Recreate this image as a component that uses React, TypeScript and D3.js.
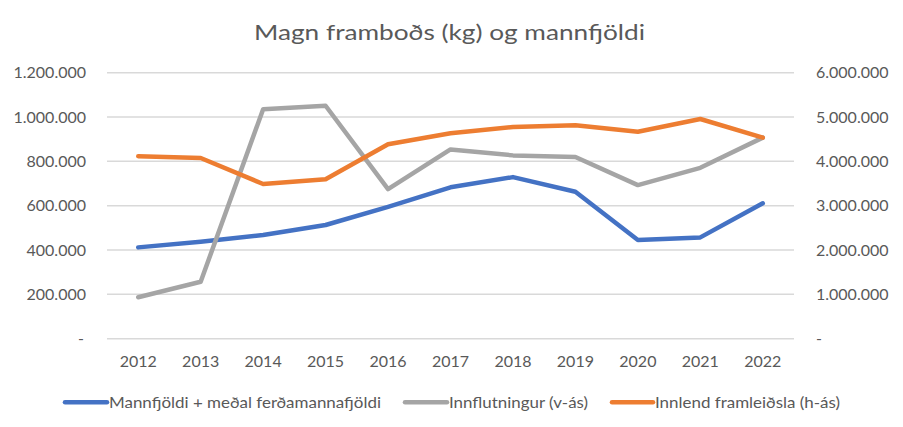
import * as React from "react";
import * as d3 from "d3";

const years = ["2012", "2013", "2014", "2015", "2016", "2017", "2018", "2019", "2020", "2021", "2022"];
// vinstri ás
const mannfjoldi = [412000, 437000, 468000, 513000, 595000, 683000, 729000, 663000, 445000, 457000, 611000];
const innflutningur = [187000, 257000, 1035000, 1051000, 675000, 854000, 827000, 820000, 693000, 771000, 907000];
// hægri ás
const innlend = [4114000, 4076000, 3489000, 3595000, 4385000, 4633000, 4775000, 4813000, 4669000, 4956000, 4534000];

const leftTicks = [0, 200000, 400000, 600000, 800000, 1000000, 1200000];
const rightTicks = [0, 1000000, 2000000, 3000000, 4000000, 5000000, 6000000];

const title = "Magn framboðs (kg) og mannfjöldi";
const seriesNames = ["Mannfjöldi + meðal ferðamannafjöldi", "Innflutningur (v-ás)", "Innlend framleiðsla (h-ás)"];
const seriesColors = ["#4472C4", "#A5A5A5", "#ED7D31"];

const isl = d3.formatLocale({ decimal: ",", thousands: ".", grouping: [3], currency: ["", ""] });
const fmt = (v: number) => (v === 0 ? "-" : isl.format(",d")(v));

const FONT = "Lato, 'Open Sans', sans-serif";
const TXT = "#595959";

export default function App() {
  const width = 903, height = 427;
  const left = 107, right = 794, top = 72.7, bottom = 338.7;

  const x = d3.scaleBand<string>().domain(years).range([left, right]);
  const yL = d3.scaleLinear().domain([0, 1200000]).range([bottom, top]);
  const yR = d3.scaleLinear().domain([0, 6000000]).range([bottom, top]);
  const cx = (d: string) => (x(d) as number) + x.bandwidth() / 2;

  const lineL = d3.line<number>().x((_, i) => cx(years[i])).y(v => yL(v));
  const lineR = d3.line<number>().x((_, i) => cx(years[i])).y(v => yR(v));

  const paths = [lineL(mannfjoldi), lineL(innflutningur), lineR(innlend)];

  const legend = [
    { x1: 65, x2: 107, tx: 109, tl: 272 },
    { x1: 405, x2: 447, tx: 449, tl: 139 },
    { x1: 612, x2: 653, tx: 655, tl: 185 },
  ];

  return (
    <svg width={width} height={height} style={{ position: "absolute", left: 0, top: 0, background: "#fff" }} fontFamily={FONT}>
      <rect width={width} height={height} fill="#fff" />
      <text x={254} y={40} fontSize={22} fill={TXT} textLength={391} lengthAdjust="spacingAndGlyphs">{title}</text>

      {leftTicks.map(t => (
        <line key={t} x1={left} x2={right} y1={yL(t)} y2={yL(t)} stroke="#D9D9D9" strokeWidth={1.5} />
      ))}

      {leftTicks.map(t => (
        <text key={"l" + t} x={t === 0 ? 84 : 86} y={yL(t) + 5.7} fontSize={16} fill={TXT} textAnchor="end">{fmt(t)}</text>
      ))}
      {rightTicks.map(t => (
        <text key={"r" + t} x={816} y={yR(t) + 5.7} fontSize={16} fill={TXT} textAnchor="start">{fmt(t)}</text>
      ))}

      {years.map(yr => (
        <text key={yr} x={cx(yr)} y={367} fontSize={16} fill={TXT} textAnchor="middle">{yr}</text>
      ))}

      {paths.map((p, i) => (
        <path key={i} d={p || ""} fill="none" stroke={seriesColors[i]} strokeWidth={4.5} strokeLinecap="round" strokeLinejoin="round" />
      ))}

      {legend.map((l, i) => (
        <g key={i}>
          <line x1={l.x1} x2={l.x2} y1={402.3} y2={402.3} stroke={seriesColors[i]} strokeWidth={4.5} strokeLinecap="round" />
          <text x={l.tx} y={408} fontSize={16} fill={TXT} textLength={l.tl} lengthAdjust="spacingAndGlyphs">{seriesNames[i]}</text>
        </g>
      ))}
    </svg>
  );
}
